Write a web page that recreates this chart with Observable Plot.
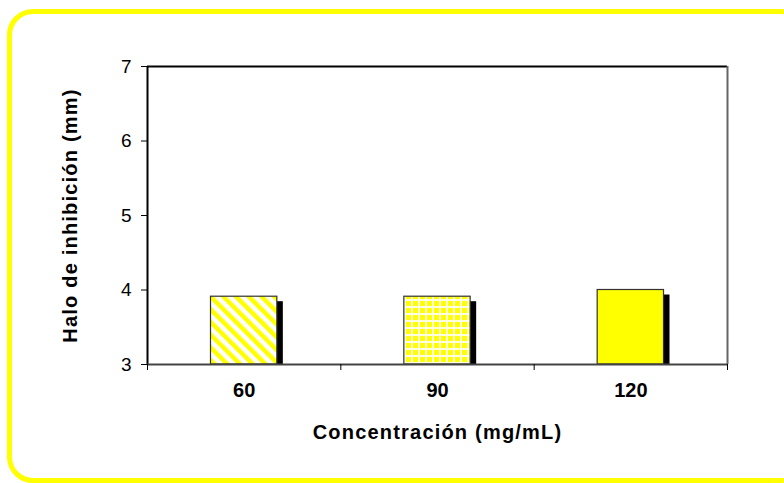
<!DOCTYPE html>
<html>
<head>
<meta charset="utf-8">
<script src="https://cdn.jsdelivr.net/npm/d3@7"></script>
<script src="https://cdn.jsdelivr.net/npm/@observablehq/plot@0.6"></script>
<style>
  html, body { margin: 0; padding: 0; background: #fff; }
  #wrap { position: relative; width: 784px; height: 483px; overflow: hidden; }
  #border { position: absolute; left: 7px; top: 9px; width: 790px; height: 464px;
    border: 5px solid #ffff00; border-radius: 26px; pointer-events: none; }
  svg { font-family: Arial, "Liberation Sans", sans-serif; }
</style>
</head>
<body>
<div id="wrap"><div id="border"></div></div>
<script>
const categories = ["60", "90", "120"];
const values = [3.91, 3.91, 4.0];
const fills = ["url(#diag)", "url(#grid)", "#ffff00"];
const yTicks = [3, 4, 5, 6, 7];
const xTitle = "Concentración (mg/mL)";
const yTitle = "Halo de inhibición (mm)";

const data = categories.map((c, i) => ({i, c, v: values[i], f: fills[i]}));

const chart = Plot.plot({
  width: 784,
  height: 483,
  marginLeft: 147,
  marginRight: 57,
  marginTop: 66,
  marginBottom: 119,
  style: {fontFamily: "Arial, 'Liberation Sans', sans-serif", background: "transparent"},
  x: {domain: [0, 3]},
  y: {domain: [3, 7]},
  color: {type: "identity"},
  marks: [
    Plot.rectY(data, {x1: d => d.i, x2: d => d.i + 1, y1: 3, y2: "v", insetLeft: 63.5, insetRight: 63.5, insetTop: 5, dx: 6, fill: "#000"}),
    Plot.rectY(data, {x1: d => d.i, x2: d => d.i + 1, y1: 3, y2: "v", insetLeft: 63.5, insetRight: 63.5, fill: "f", stroke: "#333", strokeWidth: 1.2}),
    Plot.ruleY([7], {stroke: "#000", strokeWidth: 2}),
    Plot.ruleX([0], {stroke: "#000", strokeWidth: 2}),
    Plot.ruleX([3], {stroke: "#666", strokeWidth: 2}),
    Plot.ruleY([3], {stroke: "#444", strokeWidth: 2}),
    Plot.axisY({ticks: yTicks, tickSize: 6, tickPadding: 10, label: null, fontSize: 19, tickFormat: d => String(d)}),
    Plot.axisX({ticks: [0, 1, 2, 3], tickSize: 6, tickFormat: () => "", label: null}),
    Plot.axisX({ticks: data.map(d => d.i + 0.5), tickSize: 0, tickPadding: 18, label: null, fontSize: 20, fontWeight: "bold", tickFormat: (d) => categories[Math.floor(d)]}),
    Plot.text([xTitle], {frameAnchor: "bottom", dy: 74, fontSize: 20, fontWeight: "bold", fill: "#000", style: {letterSpacing: "1.2px"}}),
    Plot.text([yTitle], {frameAnchor: "left", textAnchor: "middle", rotate: -90, dx: -77, fontSize: 20, fontWeight: "bold", fill: "#000", style: {letterSpacing: "1.2px"}})
  ]
});

chart.insertAdjacentHTML("afterbegin", `
<defs>
  <pattern id="diag" patternUnits="userSpaceOnUse" width="9" height="9" patternTransform="rotate(-45)">
    <rect x="0" y="0" width="9" height="9" fill="#ffffff"></rect>
    <rect x="0" y="0" width="4.5" height="9" fill="#ffff00"></rect>
  </pattern>
  <pattern id="grid" patternUnits="userSpaceOnUse" width="7" height="7">
    <rect x="0" y="0" width="7" height="7" fill="#ffffe0"></rect>
    <rect x="0" y="0" width="5" height="5" fill="#ffff00"></rect>
  </pattern>
</defs>`);
chart.querySelectorAll("text").forEach(t => { if (t.textContent === xTitle || t.textContent === yTitle) t.setAttribute("letter-spacing", "1.2"); });

document.getElementById("wrap").prepend(chart);
</script>
</body>
</html>
